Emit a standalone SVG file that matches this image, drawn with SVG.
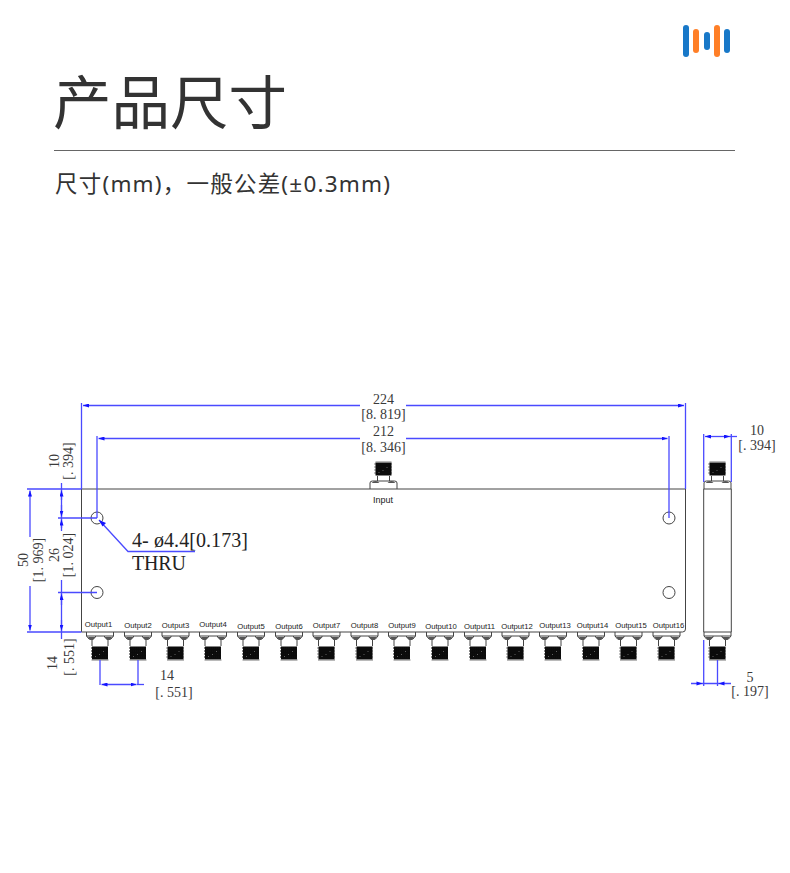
<svg xmlns="http://www.w3.org/2000/svg" width="790" height="873" viewBox="0 0 790 873">
<style>
.cjk{font-family:"Noto Sans","Noto Sans CJK SC",sans-serif;fill:#333}
.b{fill:#1878c8}.o{fill:#ff7f27}
.ln{fill:none;stroke:#444;stroke-width:1}
.bl{fill:none;stroke:#4a4aff;stroke-width:1.3}
.d{font-family:"Liberation Serif",serif;font-size:14px;fill:#3a3a3a;text-anchor:middle;dominant-baseline:central}
.d2{font-family:"Liberation Serif",serif;font-size:20px;fill:#222}
.lab{font-family:"Liberation Sans",sans-serif;font-size:7.700px;fill:#222;text-anchor:middle;dominant-baseline:central}
.ar{fill:#1414ff}
</style>
<defs>
<marker id="a" viewBox="0 0 6 4" refX="6" refY="2" markerWidth="6" markerHeight="4" markerUnits="userSpaceOnUse" orient="auto-start-reverse"><path class="ar" d="M0 0L6 2L0 4Z"/></marker>
<g id="thread">
<rect x="-8" y="0" width="16" height="13" fill="#0a0a0a"/>
<path d="M-9 1.500H9M-9 4.500H9M-9 7.500H9M-9 10.500H9" stroke="#111" stroke-width="1" stroke-dasharray="1 1"/>
<path d="M3 5h1M-1 8h1M-5 10h1" stroke="#777" stroke-width="0.800"/>
</g>
<g id="cb">
<path class="ln" d="M-13.500 0V4H13.500V0M-13.500 4L-11 7H-7L-4 4M4 4L7 7H11L13.500 4"/>
<path d="M-12 5H-4L-7 8H-10ZM4 5H12L10 8H7Z" fill="#555"/>
<path class="ln" d="M-8 8V14M8 8V14"/>
<use href="#thread" y="14.500"/>
<path d="M-8.500 28H8.500" stroke="#777" stroke-width="1"/>
</g>
<g id="ct">
<path class="ln" d="M-13.500 9V3Q-13.500 1-11 1H11Q13.500 1 13.500 3V9"/>
<path d="M-12 3Q-8 -1-4 3ZM4 3Q8 -1 12 3Z" fill="#555"/>
<path class="ln" d="M-6 -4V1M6 -4V1"/>
<use href="#thread" y="-17.500"/>
<path d="M-8 -18H8" stroke="#777" stroke-width="1"/>
</g>
</defs>
<rect width="790" height="873" fill="#fff"/>
<g id="logo">
<rect class="b" x="683" y="25" width="6" height="32" rx="3"/>
<rect class="o" x="693" y="29" width="6" height="24" rx="3"/>
<rect class="b" x="704" y="32" width="6" height="18" rx="3"/>
<rect class="o" x="714" y="25" width="6" height="32" rx="3"/>
<rect class="b" x="724" y="29" width="6" height="24" rx="3"/>
</g>
<g id="heading">
<text class="cjk" x="53" y="124" font-size="58.500">产品尺寸</text>
<line x1="54" y1="150.500" x2="735" y2="150.500" stroke="#666"/>
<text class="cjk" x="55" y="192" font-size="22.500" textLength="335">尺寸(mm)，一般公差(±0.3mm)</text>
</g>
<g id="front-body">
<path class="ln" d="M81.500 489H685.500V629Q685.500 632 682.500 632H81.500Z"/>
<circle class="ln" cx="97" cy="518" r="6"/><circle class="ln" cx="669" cy="518" r="6"/>
<circle class="ln" cx="97" cy="592.500" r="6"/><circle class="ln" cx="669" cy="592.500" r="6"/>
</g>
<g id="input"><use href="#ct" x="383.500" y="480"/><text class="lab" x="383" y="500" style="font-size:9px">Input</text></g>
<g id="output1"><use href="#cb" x="100" y="632"/><text class="lab" x="98.500" y="624">Output1</text></g>
<g id="output2"><use href="#cb" x="138" y="632"/><text class="lab" x="138" y="625">Output2</text></g>
<g id="output3"><use href="#cb" x="175.500" y="632"/><text class="lab" x="175.500" y="625">Output3</text></g>
<g id="output4"><use href="#cb" x="213" y="632"/><text class="lab" x="213" y="624">Output4</text></g>
<g id="output5"><use href="#cb" x="251" y="632"/><text class="lab" x="251" y="626">Output5</text></g>
<g id="output6"><use href="#cb" x="289" y="632"/><text class="lab" x="289" y="626">Output6</text></g>
<g id="output7"><use href="#cb" x="326.500" y="632"/><text class="lab" x="326.500" y="625">Output7</text></g>
<g id="output8"><use href="#cb" x="364.500" y="632"/><text class="lab" x="364.500" y="625">Output8</text></g>
<g id="output9"><use href="#cb" x="402" y="632"/><text class="lab" x="402" y="625">Output9</text></g>
<g id="output10"><use href="#cb" x="440" y="632"/><text class="lab" x="441" y="626">Output10</text></g>
<g id="output11"><use href="#cb" x="478" y="632"/><text class="lab" x="479.500" y="626">Output11</text></g>
<g id="output12"><use href="#cb" x="515.500" y="632"/><text class="lab" x="517" y="626">Output12</text></g>
<g id="output13"><use href="#cb" x="553" y="632"/><text class="lab" x="555" y="625">Output13</text></g>
<g id="output14"><use href="#cb" x="591" y="632"/><text class="lab" x="592.500" y="625">Output14</text></g>
<g id="output15"><use href="#cb" x="628.500" y="632"/><text class="lab" x="631" y="625">Output15</text></g>
<g id="output16"><use href="#cb" x="666.500" y="632"/><text class="lab" x="668.500" y="625">Output16</text></g>
<g id="side-view">
<path class="ln" d="M703.700 489H731.300V632H703.700Z"/>
<use href="#ct" x="717.500" y="480"/>
<use href="#cb" x="717.500" y="632"/>
</g>
<g id="connectors">
<path class="bl" d="M81.500 403V489M685.500 403V489M97 436V518M669 436V518"/>
<path class="bl" marker-start="url(#a)" d="M83 405.500H360"/>
<path class="bl" marker-end="url(#a)" d="M406 405.500H684"/>
<path class="bl" marker-start="url(#a)" d="M98.500 438.500H360"/>
<path class="bl" marker-end="url(#a)" d="M406 438.500H667.500"/>
<path class="bl" d="M27 489H81.500M27 632H81.500M58 518H97M58 592.500H97"/>
<path class="bl" marker-start="url(#a)" d="M30 490.500V537"/>
<path class="bl" marker-end="url(#a)" d="M30 586V630.500"/>
<path class="bl" d="M61.500 483V531M61.500 580V639"/>
<path class="bl" marker-start="url(#a)" d="M61.500 490.500V500"/>
<path class="bl" marker-end="url(#a)" d="M61.500 505V516.500"/>
<path class="bl" marker-start="url(#a)" d="M61.500 519.500V528"/>
<path class="bl" marker-start="url(#a)" d="M61.500 594V605"/>
<path class="bl" marker-end="url(#a)" d="M61.500 620V630.500"/>
<path class="bl" d="M100 660V685M138 660V685"/>
<path class="bl" marker-start="url(#a)" marker-end="url(#a)" d="M101.500 684.500H136.500"/>
<path class="bl" d="M137 684.500H144"/>
<path class="bl" d="M703.700 434V482M731.300 434V482M703.700 640V686M717.500 660V686"/>
<path class="bl" marker-start="url(#a)" marker-end="url(#a)" d="M705 436.500H730"/>
<path class="bl" d="M730 436.500H737"/>
<path class="bl" d="M691 683.500H731"/>
<path class="ar" d="M702.500 683.500l-6-2v4zM718.500 683.500l6-2v4z"/>
<path class="bl" d="M99 520L128 551.500H195"/>
<path class="ar" d="M99 520l7 3-3.500 3.500z"/>
</g>
<g id="dimension-labels">
<text class="d" x="383.500" y="399.500">224</text><text class="d" x="383.500" y="414">[8. 819]</text>
<text class="d" x="383.500" y="431.500">212</text><text class="d" x="383.500" y="447">[8. 346]</text>
<text class="d" x="757" y="430">10</text><text class="d" x="757" y="445">[. 394]</text>
<text class="d" x="750" y="677">5</text><text class="d" x="750" y="691">[. 197]</text>
<text class="d" x="167" y="675">14</text><text class="d" x="174" y="692">[. 551]</text>
<text class="d" transform="translate(54 461) rotate(-90)">10</text><text class="d" transform="translate(68 461) rotate(-90)">[. 394]</text>
<text class="d" transform="translate(54 555) rotate(-90)">26</text><text class="d" transform="translate(68 555) rotate(-90)">[1. 024]</text>
<text class="d" transform="translate(23 560) rotate(-90)">50</text><text class="d" transform="translate(38 560) rotate(-90)">[1. 969]</text>
<text class="d" transform="translate(52 663) rotate(-90)">14</text><text class="d" transform="translate(69 657) rotate(-90)">[. 551]</text>
<text class="d2" x="132" y="547" textLength="116">4- ø4.4[0.173]</text>
<text class="d2" x="132" y="570" textLength="54">THRU</text>
</g>
</svg>
